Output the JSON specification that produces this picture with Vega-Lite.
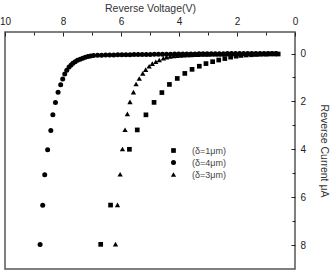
{
  "$schema": "https://vega.github.io/schema/vega-lite/v6.json",
  "autosize": {"type": "none"},
  "padding": {"left": 5, "top": 32, "right": 36, "bottom": 3},
  "width": 290,
  "height": 237,
  "background": "white",
  "config": {
    "view": {"stroke": "#555", "strokeWidth": 1.5},
    "font": "Liberation Sans"
  },
  "datasets": {
    "pts": [
      {"v": 8.79, "i": 7.98, "s": "(δ=4μm)"},
      {"v": 8.70, "i": 6.34, "s": "(δ=4μm)"},
      {"v": 8.63, "i": 5.06, "s": "(δ=4μm)"},
      {"v": 8.53, "i": 4.02, "s": "(δ=4μm)"},
      {"v": 8.42, "i": 3.21, "s": "(δ=4μm)"},
      {"v": 8.35, "i": 2.56, "s": "(δ=4μm)"},
      {"v": 8.26, "i": 2.04, "s": "(δ=4μm)"},
      {"v": 8.17, "i": 1.62, "s": "(δ=4μm)"},
      {"v": 8.08, "i": 1.30, "s": "(δ=4μm)"},
      {"v": 8.01, "i": 1.06, "s": "(δ=4μm)"},
      {"v": 7.94, "i": 0.85, "s": "(δ=4μm)"},
      {"v": 7.87, "i": 0.70, "s": "(δ=4μm)"},
      {"v": 7.79, "i": 0.56, "s": "(δ=4μm)"},
      {"v": 7.72, "i": 0.48, "s": "(δ=4μm)"},
      {"v": 7.66, "i": 0.41, "s": "(δ=4μm)"},
      {"v": 7.58, "i": 0.34, "s": "(δ=4μm)"},
      {"v": 7.50, "i": 0.28, "s": "(δ=4μm)"},
      {"v": 7.41, "i": 0.24, "s": "(δ=4μm)"},
      {"v": 7.32, "i": 0.20, "s": "(δ=4μm)"},
      {"v": 7.23, "i": 0.15, "s": "(δ=4μm)"},
      {"v": 7.14, "i": 0.12, "s": "(δ=4μm)"},
      {"v": 7.05, "i": 0.10, "s": "(δ=4μm)"},
      {"v": 6.95, "i": 0.08, "s": "(δ=4μm)"},
      {"v": 6.81, "i": 0.07, "s": "(δ=4μm)"},
      {"v": 6.67, "i": 0.07, "s": "(δ=4μm)"},
      {"v": 6.53, "i": 0.06, "s": "(δ=4μm)"},
      {"v": 6.39, "i": 0.06, "s": "(δ=4μm)"},
      {"v": 6.25, "i": 0.06, "s": "(δ=4μm)"},
      {"v": 6.11, "i": 0.05, "s": "(δ=4μm)"},
      {"v": 5.97, "i": 0.05, "s": "(δ=4μm)"},
      {"v": 5.83, "i": 0.05, "s": "(δ=4μm)"},
      {"v": 5.69, "i": 0.05, "s": "(δ=4μm)"},
      {"v": 5.55, "i": 0.04, "s": "(δ=4μm)"},
      {"v": 5.41, "i": 0.04, "s": "(δ=4μm)"},
      {"v": 5.27, "i": 0.04, "s": "(δ=4μm)"},
      {"v": 5.13, "i": 0.04, "s": "(δ=4μm)"},
      {"v": 4.99, "i": 0.04, "s": "(δ=4μm)"},
      {"v": 4.85, "i": 0.03, "s": "(δ=4μm)"},
      {"v": 4.71, "i": 0.03, "s": "(δ=4μm)"},
      {"v": 4.57, "i": 0.03, "s": "(δ=4μm)"},
      {"v": 4.43, "i": 0.03, "s": "(δ=4μm)"},
      {"v": 4.29, "i": 0.03, "s": "(δ=4μm)"},
      {"v": 4.15, "i": 0.02, "s": "(δ=4μm)"},
      {"v": 4.01, "i": 0.02, "s": "(δ=4μm)"},
      {"v": 3.87, "i": 0.02, "s": "(δ=4μm)"},
      {"v": 3.73, "i": 0.02, "s": "(δ=4μm)"},
      {"v": 3.59, "i": 0.02, "s": "(δ=4μm)"},
      {"v": 3.45, "i": 0.02, "s": "(δ=4μm)"},
      {"v": 3.31, "i": 0.01, "s": "(δ=4μm)"},
      {"v": 3.17, "i": 0.01, "s": "(δ=4μm)"},
      {"v": 3.03, "i": 0.01, "s": "(δ=4μm)"},
      {"v": 2.89, "i": 0.01, "s": "(δ=4μm)"},
      {"v": 2.75, "i": 0.01, "s": "(δ=4μm)"},
      {"v": 2.61, "i": 0.01, "s": "(δ=4μm)"},
      {"v": 2.47, "i": 0.01, "s": "(δ=4μm)"},
      {"v": 2.33, "i": 0.0, "s": "(δ=4μm)"},
      {"v": 2.19, "i": 0.0, "s": "(δ=4μm)"},
      {"v": 2.05, "i": 0.0, "s": "(δ=4μm)"},
      {"v": 1.91, "i": 0.0, "s": "(δ=4μm)"},
      {"v": 1.77, "i": 0.0, "s": "(δ=4μm)"},
      {"v": 1.63, "i": 0.0, "s": "(δ=4μm)"},
      {"v": 1.49, "i": 0.0, "s": "(δ=4μm)"},
      {"v": 1.35, "i": 0.0, "s": "(δ=4μm)"},
      {"v": 1.21, "i": 0.0, "s": "(δ=4μm)"},
      {"v": 1.07, "i": 0.0, "s": "(δ=4μm)"},
      {"v": 0.93, "i": 0.0, "s": "(δ=4μm)"},
      {"v": 0.79, "i": 0.0, "s": "(δ=4μm)"},
      {"v": 0.65, "i": 0.0, "s": "(δ=4μm)"},

      {"v": 6.19, "i": 7.96, "s": "(δ=3μm)"},
      {"v": 6.12, "i": 6.32, "s": "(δ=3μm)"},
      {"v": 6.03, "i": 5.04, "s": "(δ=3μm)"},
      {"v": 5.95, "i": 3.99, "s": "(δ=3μm)"},
      {"v": 5.86, "i": 3.18, "s": "(δ=3μm)"},
      {"v": 5.78, "i": 2.52, "s": "(δ=3μm)"},
      {"v": 5.69, "i": 2.02, "s": "(δ=3μm)"},
      {"v": 5.57, "i": 1.61, "s": "(δ=3μm)"},
      {"v": 5.48, "i": 1.27, "s": "(δ=3μm)"},
      {"v": 5.37, "i": 1.04, "s": "(δ=3μm)"},
      {"v": 5.25, "i": 0.83, "s": "(δ=3μm)"},
      {"v": 5.15, "i": 0.67, "s": "(δ=3μm)"},
      {"v": 5.03, "i": 0.53, "s": "(δ=3μm)"},
      {"v": 4.92, "i": 0.42, "s": "(δ=3μm)"},
      {"v": 4.80, "i": 0.34, "s": "(δ=3μm)"},
      {"v": 4.68, "i": 0.27, "s": "(δ=3μm)"},
      {"v": 4.54, "i": 0.20, "s": "(δ=3μm)"},
      {"v": 4.43, "i": 0.15, "s": "(δ=3μm)"},
      {"v": 4.31, "i": 0.12, "s": "(δ=3μm)"},
      {"v": 4.19, "i": 0.10, "s": "(δ=3μm)"},
      {"v": 4.07, "i": 0.09, "s": "(δ=3μm)"},
      {"v": 3.95, "i": 0.08, "s": "(δ=3μm)"},
      {"v": 3.83, "i": 0.07, "s": "(δ=3μm)"},
      {"v": 3.71, "i": 0.06, "s": "(δ=3μm)"},
      {"v": 3.59, "i": 0.06, "s": "(δ=3μm)"},
      {"v": 3.47, "i": 0.05, "s": "(δ=3μm)"},
      {"v": 3.35, "i": 0.05, "s": "(δ=3μm)"},
      {"v": 3.23, "i": 0.04, "s": "(δ=3μm)"},
      {"v": 3.11, "i": 0.04, "s": "(δ=3μm)"},
      {"v": 2.99, "i": 0.04, "s": "(δ=3μm)"},
      {"v": 2.87, "i": 0.03, "s": "(δ=3μm)"},
      {"v": 2.75, "i": 0.03, "s": "(δ=3μm)"},
      {"v": 2.63, "i": 0.03, "s": "(δ=3μm)"},
      {"v": 2.51, "i": 0.03, "s": "(δ=3μm)"},
      {"v": 2.39, "i": 0.02, "s": "(δ=3μm)"},
      {"v": 2.27, "i": 0.02, "s": "(δ=3μm)"},
      {"v": 2.15, "i": 0.02, "s": "(δ=3μm)"},
      {"v": 2.03, "i": 0.02, "s": "(δ=3μm)"},
      {"v": 1.91, "i": 0.02, "s": "(δ=3μm)"},
      {"v": 1.79, "i": 0.01, "s": "(δ=3μm)"},
      {"v": 1.67, "i": 0.01, "s": "(δ=3μm)"},
      {"v": 1.55, "i": 0.01, "s": "(δ=3μm)"},
      {"v": 1.43, "i": 0.01, "s": "(δ=3μm)"},
      {"v": 1.31, "i": 0.01, "s": "(δ=3μm)"},
      {"v": 1.19, "i": 0.0, "s": "(δ=3μm)"},
      {"v": 1.07, "i": 0.0, "s": "(δ=3μm)"},
      {"v": 0.95, "i": 0.0, "s": "(δ=3μm)"},
      {"v": 0.83, "i": 0.0, "s": "(δ=3μm)"},
      {"v": 0.71, "i": 0.0, "s": "(δ=3μm)"},
      {"v": 0.62, "i": 0.0, "s": "(δ=3μm)"},

      {"v": 6.70, "i": 7.97, "s": "(δ=1μm)"},
      {"v": 6.36, "i": 6.33, "s": "(δ=1μm)"},
      {"v": 5.71, "i": 4.00, "s": "(δ=1μm)"},
      {"v": 5.44, "i": 3.19, "s": "(δ=1μm)"},
      {"v": 5.14, "i": 2.56, "s": "(δ=1μm)"},
      {"v": 4.86, "i": 2.04, "s": "(δ=1μm)"},
      {"v": 4.59, "i": 1.63, "s": "(δ=1μm)"},
      {"v": 4.33, "i": 1.29, "s": "(δ=1μm)"},
      {"v": 4.06, "i": 1.04, "s": "(δ=1μm)"},
      {"v": 3.80, "i": 0.83, "s": "(δ=1μm)"},
      {"v": 3.55, "i": 0.66, "s": "(δ=1μm)"},
      {"v": 3.30, "i": 0.53, "s": "(δ=1μm)"},
      {"v": 3.07, "i": 0.42, "s": "(δ=1μm)"},
      {"v": 2.84, "i": 0.34, "s": "(δ=1μm)"},
      {"v": 2.63, "i": 0.27, "s": "(δ=1μm)"},
      {"v": 2.42, "i": 0.21, "s": "(δ=1μm)"},
      {"v": 2.22, "i": 0.15, "s": "(δ=1μm)"},
      {"v": 2.03, "i": 0.11, "s": "(δ=1μm)"},
      {"v": 1.86, "i": 0.08, "s": "(δ=1μm)"},
      {"v": 1.68, "i": 0.06, "s": "(δ=1μm)"},
      {"v": 1.50, "i": 0.05, "s": "(δ=1μm)"},
      {"v": 1.33, "i": 0.04, "s": "(δ=1μm)"},
      {"v": 1.17, "i": 0.03, "s": "(δ=1μm)"},
      {"v": 1.00, "i": 0.03, "s": "(δ=1μm)"},
      {"v": 0.85, "i": 0.02, "s": "(δ=1μm)"},
      {"v": 0.70, "i": 0.02, "s": "(δ=1μm)"},
      {"v": 0.58, "i": 0.02, "s": "(δ=1μm)"}
    ]
  },
  "data": {"name": "pts"},
  "mark": {"type": "point", "filled": true, "opacity": 1, "color": "black"},
  "encoding": {
    "x": {
      "field": "v", "type": "quantitative",
      "scale": {"domain": [0, 10], "reverse": true, "nice": false, "zero": false},
      "axis": {
        "orient": "top", "title": "Reverse Voltage(V)",
        "values": [0, 1, 2, 3, 4, 5, 6, 7, 8, 9, 10],
        "labelExpr": "datum.value % 2 === 0 ? datum.label : ''",
        "tickSize": {"condition": {"test": "datum.value % 2 === 0", "value": -4}, "value": -3},
        "grid": false, "domain": false,
        "tickColor": "#222", "labelColor": "#222", "titleColor": "#333",
        "labelFontSize": 10, "titleFontSize": 10.5, "titleFontWeight": "normal",
        "labelPadding": 10, "titlePadding": 2,
        "labelFlush": false, "labelOverlap": false
      }
    },
    "y": {
      "field": "i", "type": "quantitative",
      "scale": {"domain": [-0.9, 9], "reverse": true, "nice": false, "zero": false},
      "axis": {
        "orient": "right", "title": "Reverse Current μA",
        "values": [0, 1, 2, 3, 4, 5, 6, 7, 8],
        "labelExpr": "datum.value % 2 === 0 ? datum.label : ''",
        "tickSize": {"condition": {"test": "datum.value % 2 === 0", "value": -4}, "value": -3},
        "grid": false, "domain": false,
        "tickColor": "#222", "labelColor": "#222", "titleColor": "#333",
        "labelFontSize": 10, "titleFontSize": 10.5, "titleFontWeight": "normal",
        "labelPadding": 9, "titlePadding": 13,
        "labelFlush": false, "labelOverlap": false
      }
    },
    "shape": {
      "field": "s", "type": "nominal",
      "scale": {"domain": ["(δ=1μm)", "(δ=4μm)", "(δ=3μm)"], "range": ["square", "circle", "triangle-up"]},
      "legend": {
        "orient": "none", "legendX": 164, "legendY": 114, "title": null,
        "padding": 0, "rowPadding": 1, "labelFontSize": 9, "labelColor": "#444",
        "symbolFillColor": "black", "symbolStrokeColor": "black",
        "labelOffset": 14
      }
    },
    "size": {
      "field": "s", "type": "nominal",
      "scale": {"domain": ["(δ=1μm)", "(δ=4μm)", "(δ=3μm)"], "range": [22, 28, 40]},
      "legend": {
        "orient": "none", "legendX": 164, "legendY": 114, "title": null,
        "padding": 0, "rowPadding": 1, "labelFontSize": 9, "labelColor": "#444",
        "symbolFillColor": "black", "symbolStrokeColor": "black",
        "labelOffset": 14
      }
    }
  }
}
